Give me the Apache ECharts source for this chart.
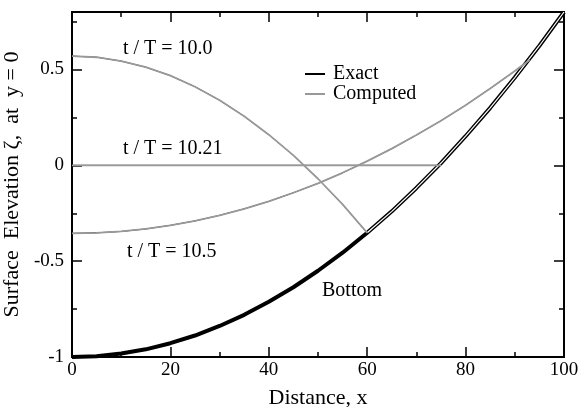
<!DOCTYPE html>
<html>
<head>
<meta charset="utf-8">
<script src="https://cdn.jsdelivr.net/npm/echarts@6/dist/echarts.min.js"></script>
<style>
  body { margin: 0; }
  #chart { width: 579px; height: 407px; }
</style>
</head>
<body>
<div id="chart"></div>
<script>
// Parabolic bowl: bottom profile and free-surface elevation along y = 0
const bottomX = [0, 5, 10, 15, 20, 25, 30, 35, 40, 45, 50, 55, 60, 65, 70, 75, 80, 85, 90, 95, 100];
const bottomY = [-1, -0.996, -0.982, -0.96, -0.928, -0.888, -0.838, -0.78, -0.712, -0.636, -0.55,
                 -0.456, -0.352, -0.24, -0.118, 0.012, 0.152, 0.3, 0.458, 0.624, 0.8];

// t/T = 10.0 (wet up to the shoreline at x = 60)
const t100X = [0, 5, 10, 15, 20, 25, 30, 35, 40, 45, 50, 55, 60];
const t100Y = [0.57, 0.564, 0.544, 0.512, 0.468, 0.41, 0.34, 0.256, 0.16, 0.052, -0.07, -0.204, -0.352];

// t/T = 10.21 (flat surface up to x = 75)
const t1021X = [0, 75];
const t1021Y = [0, 0];

// t/T = 10.5 (wet up to x = 93)
const t105X = [0, 5, 10, 15, 20, 25, 30, 35, 40, 45, 50, 55, 60, 65, 70, 75, 80, 85, 90, 93];
const t105Y = [-0.355, -0.352, -0.345, -0.332, -0.313, -0.29, -0.261, -0.227, -0.188, -0.143,
               -0.094, -0.039, 0.022, 0.087, 0.158, 0.233, 0.314, 0.401, 0.492, 0.55];

const xTicks = [0, 20, 40, 60, 80, 100];
const yTicks = [-1, -0.5, 0, 0.5];
const yTop = 0.8;

const pairs = (xs, ys) => xs.map((x, i) => [x, ys[i]]);
const dryStart = bottomX.indexOf(60);
const dryX = bottomX.slice(dryStart);
const dryY = bottomY.slice(dryStart);

const FONT = '"Liberation Serif", "Times New Roman", serif';
const GRAY = '#999999';

function xAx(pos, withLabels) {
  return {
    type: 'value', position: pos, min: xTicks[0], max: xTicks[xTicks.length - 1],
    interval: xTicks[1] - xTicks[0],
    axisLine: { show: true, onZero: false, lineStyle: { color: '#000', width: 2 } },
    axisTick: { show: true, inside: true, length: 10, lineStyle: { color: '#000', width: 1.5 } },
    minorTick: { show: true, splitNumber: 2, length: 5, lineStyle: { color: '#000', width: 1.5 } },
    axisLabel: { show: withLabels, margin: 4, color: '#000', fontFamily: FONT, fontSize: 19 },
    splitLine: { show: false },
    name: withLabels ? 'Distance, x' : '', nameLocation: 'middle', nameGap: 30,
    nameTextStyle: { color: '#000', fontFamily: FONT, fontSize: 22 }
  };
}

function yAx(pos, step, len, withLabels) {
  return {
    type: 'value', position: pos, min: yTicks[0], max: yTop, interval: step,
    axisLine: { show: true, onZero: false, lineStyle: { color: '#000', width: 2 } },
    axisTick: { show: true, inside: true, length: len, lineStyle: { color: '#000', width: 1.5 } },
    axisLabel: {
      show: withLabels, showMaxLabel: false, margin: 8, color: '#000',
      fontFamily: FONT, fontSize: 19, formatter: v => String(v)
    },
    splitLine: { show: false },
    name: withLabels ? 'Surface  Elevation \u03B6,  at  y = 0' : '',
    nameLocation: 'middle', nameGap: 42,
    nameTextStyle: { color: '#000', fontFamily: FONT, fontSize: 22 }
  };
}

const lineSeries = (name, data, color, width, z) => ({
  name: name, type: 'line', data: data, showSymbol: false, symbol: 'none',
  lineStyle: { color: color, width: width }, itemStyle: { color: color },
  z: z, silent: true
});

const note = (text, x, y) => ({
  text: text, left: x, top: y, padding: 0,
  textStyle: { color: '#000', fontFamily: FONT, fontSize: 20, fontWeight: 'normal' }
});

const chart = echarts.init(document.getElementById('chart'), null, { renderer: 'canvas' });
chart.setOption({
  animation: false,
  grid: { left: 72, right: 15, top: 12, bottom: 50, outerBoundsMode: 'none' },
  xAxis: [xAx('bottom', true), xAx('top', false)],
  yAxis: [
    yAx('left', 0.5, 10, true),
    yAx('left', 0.25, 5, false),
    yAx('right', 0.5, 10, false),
    yAx('right', 0.25, 5, false)
  ],
  title: [
    note('t / T = 10.0', 123, 39),
    note('t / T = 10.21', 123, 139),
    note('t / T = 10.5', 127, 242),
    note('Bottom', 322, 281)
  ],
  legend: {
    left: 300, top: 59, orient: 'vertical', itemGap: 0, itemWidth: 20, itemHeight: 2,
    textStyle: { color: '#000', fontFamily: FONT, fontSize: 20, lineHeight: 20, padding: [0, 0, 0, 3] },
    data: [
      { name: 'Exact', icon: 'rect', itemStyle: { color: '#000' } },
      { name: 'Computed', icon: 'rect', itemStyle: { color: GRAY } }
    ]
  },
  series: [
    lineSeries('Bottom', pairs(bottomX, bottomY), '#000', 4, 2),
    lineSeries('Dry', pairs(dryX, dryY), '#fff', 1.2, 3),
    lineSeries('Exact', pairs(t100X, t100Y), '#000', 1, 4),
    lineSeries('Exact', pairs(t1021X, t1021Y), '#000', 1, 4),
    lineSeries('Exact', pairs(t105X, t105Y), '#000', 1, 4),
    lineSeries('Computed', pairs(t100X, t100Y), GRAY, 1.8, 5),
    lineSeries('Computed', pairs(t1021X, t1021Y), GRAY, 1.8, 5),
    lineSeries('Computed', pairs(t105X, t105Y), GRAY, 1.8, 5)
  ]
});
</script>
</body>
</html>
